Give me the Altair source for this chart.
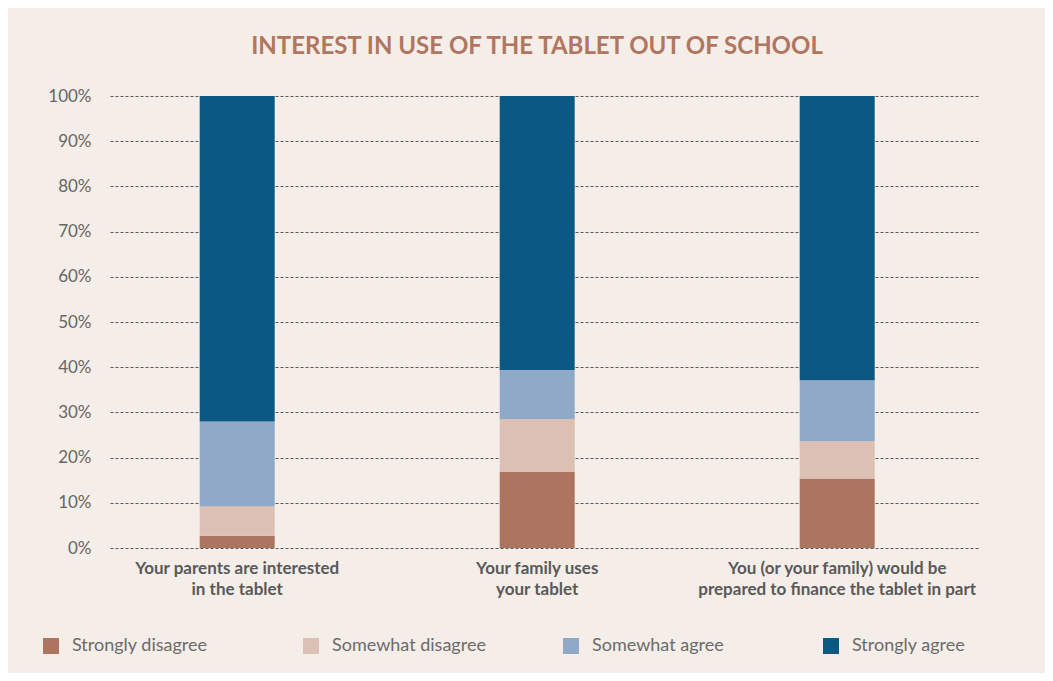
import altair as alt
import pandas as pd

categories = [
    "Your parents are interested|in the tablet",
    "Your family uses|your tablet",
    "You (or your family) would be|prepared to finance the tablet in part",
]
responses = ["Strongly disagree", "Somewhat disagree", "Somewhat agree", "Strongly agree"]
colors = ["#AD7560", "#DBC0B3", "#8FA9C6", "#0B5883"]

strongly_disagree = [2.7, 16.8, 15.4]
somewhat_disagree = [6.5, 11.7, 8.2]
somewhat_agree = [18.8, 10.9, 13.5]
strongly_agree = [72.0, 60.6, 62.9]

series = [strongly_disagree, somewhat_disagree, somewhat_agree, strongly_agree]
rows = []
for ri, (resp, vals) in enumerate(zip(responses, series)):
    for cat, v in zip(categories, vals):
        rows.append({"category": cat, "response": resp, "value": v / 100.0, "idx": ri})
df = pd.DataFrame(rows)

FONT = "Lato"

chart = alt.Chart(df).mark_bar(size=75).encode(
    x=alt.X(
        "category:N",
        sort=categories,
        title=None,
        scale=alt.Scale(paddingInner=0.75, paddingOuter=0.325, align=0.46),
        axis=alt.Axis(
            labelExpr="split(datum.value, '|')",
            labelAngle=0,
            labelFont=FONT,
            labelFontWeight="bold",
            labelFontSize=17,
            labelColor="#595959",
            labelPadding=12,
            labelLineHeight=21,
            ticks=False,
            domain=False,
            grid=False,
            labelLimit=400,
        ),
    ),
    y=alt.Y(
        "value:Q",
        stack="zero",
        title=None,
        scale=alt.Scale(domain=[0, 1], nice=False),
        axis=alt.Axis(
            format=".0%",
            values=[i / 10 for i in range(11)],
            labelFont=FONT,
            labelFontSize=17,
            labelColor="#666666",
            labelPadding=19,
            ticks=False,
            domain=False,
            grid=True,
            gridColor="#5a5a5a",
            gridDash=[3, 2],
            gridWidth=1,
        ),
    ),
    color=alt.Color(
        "response:N",
        scale=alt.Scale(domain=responses, range=colors),
        legend=alt.Legend(
            title=None,
            orient="none",
            legendX=-68,
            legendY=541,
            direction="horizontal",
            columns=4,
            gridAlign="all",
            columnPadding=76,
            symbolType="square",
            symbolSize=256,
            symbolStrokeWidth=0,
            symbolOpacity=1,
            labelFont=FONT,
            labelFontSize=18,
            labelColor="#6b6b6b",
            labelOffset=12,
            labelLimit=300,
        ),
    ),
    order=alt.Order("idx:Q", sort="ascending"),
).properties(
    width=870,
    height=452,
    title=alt.Title(
        "INTEREST IN USE OF THE TABLET OUT OF SCHOOL",
        font=FONT,
        fontSize=24,
        fontWeight="bold",
        color="#B07660",
        anchor="middle",
        offset=28,
        dx=-8,
    ),
    padding={"left": 102, "top": 88, "right": 65, "bottom": 125},
    autosize=alt.AutoSizeParams(type="none"),
    background="#F4EDE8",
).configure_view(stroke=None)

chart.save("out.html", embed_options={"renderer": "svg", "actions": False})
